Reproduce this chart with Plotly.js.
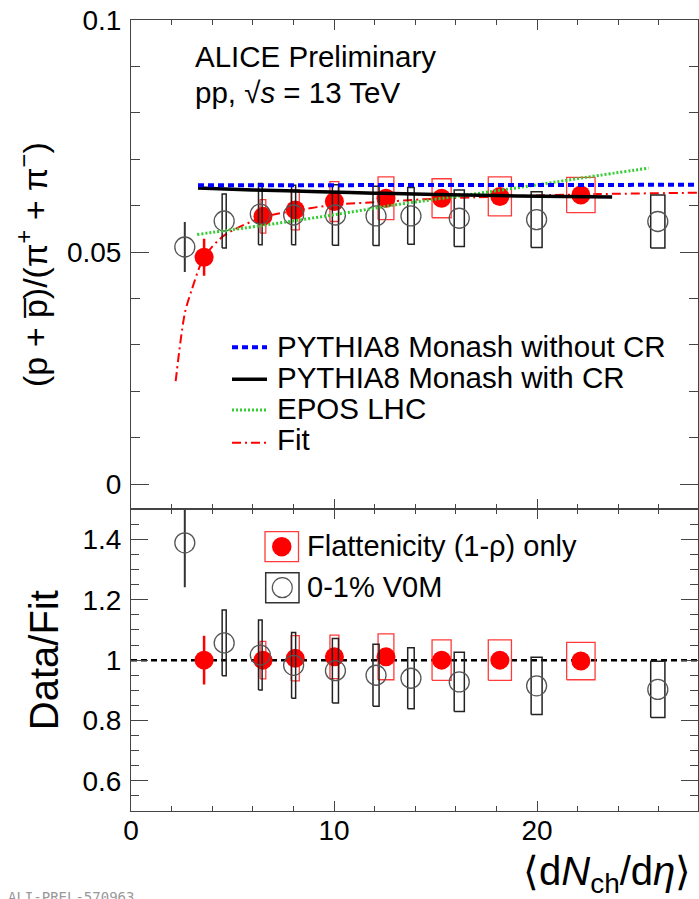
<!DOCTYPE html>
<html>
<head>
<meta charset="utf-8">
<script src="https://cdn.plot.ly/plotly-3.0.1.min.js"></script>
<style>
html,body{margin:0;padding:0;background:#fff;}
#chart{width:699px;height:899px;}
</style>
</head>
<body>
<div id="chart"></div>
<script>
// ---------------- data ----------------
// Flattenicity (1-rho) only
const xFlat      = [3.60, 6.50, 8.09, 10.02, 12.56, 15.30, 18.17, 22.16];
const xErrFlat   = [0.00, 0.14, 0.20, 0.22, 0.39, 0.47, 0.57, 0.70];
const yFlat      = [0.0489, 0.0577, 0.0591, 0.0609, 0.0616, 0.0616, 0.0620, 0.0623];
const statFlat   = [0.0040, 0.0006, 0.0006, 0.0006, 0.0006, 0.0006, 0.0006, 0.0006];
const systFlat   = [0.0000, 0.0036, 0.0043, 0.0043, 0.0046, 0.0042, 0.0042, 0.0038];
const ratioFlat     = [1.000, 1.000, 1.006, 1.011, 1.011, 1.000, 1.000, 0.997];
const ratioStatFlat = [0.081, 0.010, 0.010, 0.010, 0.010, 0.010, 0.010, 0.010];
const ratioSystFlat = [0.000, 0.062, 0.075, 0.072, 0.076, 0.067, 0.067, 0.062];

// 0-1% V0M
const xV0M      = [2.65, 4.59, 6.37, 8.01, 10.07, 12.07, 13.79, 16.17, 19.98, 25.95];
const xErrV0M   = [0.00, 0.10, 0.09, 0.10, 0.15, 0.15, 0.16, 0.25, 0.27, 0.35];
const yV0M      = [0.0511, 0.0567, 0.0582, 0.0580, 0.0580, 0.0578, 0.0578, 0.0573, 0.0570, 0.0566];
const statV0M   = [0.0054, 0, 0, 0, 0, 0, 0, 0, 0, 0];
const systV0M   = [0.0000, 0.0058, 0.0066, 0.0064, 0.0065, 0.0064, 0.0061, 0.0061, 0.0060, 0.0057];
const ratioV0M     = [1.389, 1.057, 1.017, 0.983, 0.965, 0.950, 0.940, 0.928, 0.915, 0.903];
const ratioStatV0M = [0.147, 0, 0, 0, 0, 0, 0, 0, 0, 0];
const ratioSystV0M = [0.000, 0.109, 0.116, 0.109, 0.107, 0.103, 0.101, 0.098, 0.095, 0.093];

// Models
const xPythiaNoCR = [3.3, 8, 14, 20, 28];
const yPythiaNoCR = [0.0644, 0.0644, 0.0644, 0.0645, 0.0645];
const xPythiaCR   = [3.3, 6.0, 9.3, 12.0, 15.0, 19.0, 23.7];
const yPythiaCR   = [0.0638, 0.0634, 0.0630, 0.0627, 0.0624, 0.0621, 0.0619];
const xEPOS       = [3.26, 6.4, 9.94, 13.2, 16.2, 19.4, 22.4, 25.5];
const yEPOS       = [0.0538, 0.0557, 0.0580, 0.0603, 0.0621, 0.0641, 0.0661, 0.0681];
const xFit        = [2.2, 2.65, 3.0, 3.6, 4.59, 6.5, 8.05, 10.05, 12.3, 14.5, 17, 20, 23, 27.93];
const yFit        = [0.0222, 0.0368, 0.0420, 0.0489, 0.0536, 0.0575, 0.0589, 0.0602, 0.0608, 0.0614, 0.0618, 0.0622, 0.0625, 0.0628];
const xUnity      = [0, 27.93];
const yUnity      = [1, 1];

// tick values / labels
const xTicks  = [0, 10, 20];
const yTopTicks = [0, 0.05, 0.1];
const yTopTickText = ['0', '0.05', '0.1'];
const yBotTicks = [0.6, 0.8, 1, 1.2, 1.4];
const yBotTickText = ['0.6', '0.8', '1', '1.2', '1.4'];

// ---------------- helpers ----------------
function boxes(xs, xe, ys, ye) {
  const X = [], Y = [];
  for (let i = 0; i < xs.length; i++) {
    if (!(ye[i] > 0)) continue;
    const x0 = xs[i] - xe[i], x1 = xs[i] + xe[i];
    const y0 = ys[i] - ye[i], y1 = ys[i] + ye[i];
    X.push(x0, x1, x1, x0, x0, null);
    Y.push(y0, y0, y1, y1, y0, null);
  }
  return {X, Y};
}

const FONT = 'Liberation Sans, Arial, Helvetica, sans-serif';
const RED = '#ff0000';
const RED_BOX = '#ff3b3b';
const AX = '#444444';

const W = 699, H = 899;
const mL = 131, mR = 1, mT = 20, mB = 88;
const pw = W - mL - mR, ph = H - mT - mB;
const px = p => (p - mL) / pw;
const py = p => (H - mB - p) / ph;
const split = 0.3814;

const bFlatTop = boxes(xFlat, xErrFlat, yFlat, systFlat);
const bV0MTop  = boxes(xV0M, xErrV0M, yV0M, systV0M);
const bFlatBot = boxes(xFlat, xErrFlat, ratioFlat, ratioSystFlat);
const bV0MBot  = boxes(xV0M, xErrV0M, ratioV0M, ratioSystV0M);

const traces = [];
function dataTraces(xa, ya, yF, sF, bF, yV, sV, bV) {
  traces.push({x: bF.X, y: bF.Y, xaxis: xa, yaxis: ya, mode: 'lines', type: 'scatter',
    line: {color: RED_BOX, width: 1.3}, hoverinfo: 'skip', showlegend: false, connectgaps: false});
  traces.push({x: xFlat, y: yF, xaxis: xa, yaxis: ya, mode: 'markers', type: 'scatter',
    marker: {color: RED, size: 19, symbol: 'circle', line: {width: 0}},
    error_y: {type: 'data', array: sF, visible: true, color: RED, thickness: 2.5, width: 0},
    showlegend: false, name: 'Flattenicity (1-ρ) only'});
  traces.push({x: bV.X, y: bV.Y, xaxis: xa, yaxis: ya, mode: 'lines', type: 'scatter',
    line: {color: '#222222', width: 1.5}, hoverinfo: 'skip', showlegend: false, connectgaps: false});
  traces.push({x: xV0M, y: yV, xaxis: xa, yaxis: ya, mode: 'markers', type: 'scatter',
    marker: {color: 'rgba(0,0,0,0)', size: 20, symbol: 'circle', line: {color: '#555555', width: 1.3}},
    error_y: {type: 'data', array: sV, visible: true, color: '#333333', thickness: 2, width: 0},
    showlegend: false, name: '0-1% V0M'});
}

// top panel: models
traces.push({x: xFit, y: yFit, xaxis: 'x2', yaxis: 'y', mode: 'lines', type: 'scatter',
  line: {color: RED, width: 2, dash: '9px,4px,2px,4px', shape: 'spline', smoothing: 0.8}, name: 'Fit', showlegend: false});
dataTraces('x2', 'y', yFlat, statFlat, bFlatTop, yV0M, statV0M, bV0MTop);
traces.push({x: xEPOS, y: yEPOS, xaxis: 'x2', yaxis: 'y', mode: 'lines', type: 'scatter',
  line: {color: '#33cc33', width: 3, dash: '2px,2px', shape: 'spline'}, name: 'EPOS LHC', showlegend: false});
traces.push({x: xPythiaCR, y: yPythiaCR, xaxis: 'x2', yaxis: 'y', mode: 'lines', type: 'scatter',
  line: {color: '#000000', width: 3.5, shape: 'spline'}, name: 'PYTHIA8 Monash with CR', showlegend: false});
traces.push({x: xPythiaNoCR, y: yPythiaNoCR, xaxis: 'x2', yaxis: 'y', mode: 'lines', type: 'scatter',
  line: {color: '#0000ff', width: 4, dash: '6px,4px'}, name: 'PYTHIA8 Monash without CR', showlegend: false});

// bottom panel
traces.push({x: xUnity, y: yUnity, xaxis: 'x', yaxis: 'y2', mode: 'lines', type: 'scatter',
  line: {color: '#000000', width: 2.5, dash: '6px,4px'}, hoverinfo: 'skip', showlegend: false});
dataTraces('x', 'y2', ratioFlat, ratioStatFlat, bFlatBot, ratioV0M, ratioStatV0M, bV0MBot);

const axisCommon = {
  showgrid: false, zeroline: false, showline: true, linecolor: AX, linewidth: 1,
  mirror: 'allticks', ticks: 'inside', tickcolor: AX, tickwidth: 1,
  tickfont: {family: FONT, size: 28, color: '#000'}
};

const NB = '\u00a0';
const layout = {
  width: W, height: H,
  margin: {l: mL, r: mR, t: mT, b: mB, pad: 0},
  paper_bgcolor: '#ffffff', plot_bgcolor: '#ffffff',
  showlegend: false,
  font: {family: FONT, color: '#000'},
  xaxis: Object.assign({}, axisCommon, {
    domain: [0, 1], anchor: 'y2', range: [0, 27.93],
    tickmode: 'array', tickvals: xTicks, ticktext: xTicks.map(String), ticklen: 10,
    minor: {dtick: 2, tick0: 0, ticklen: 5, ticks: 'inside', tickcolor: AX, tickwidth: 1, showgrid: false},
    ticklabelstandoff: -6
  }),
  xaxis2: Object.assign({}, axisCommon, {
    domain: [0, 1], anchor: 'y', matches: 'x', range: [0, 27.93],
    tickmode: 'array', tickvals: xTicks, ticklen: 10, showticklabels: false,
    minor: {dtick: 2, tick0: 0, ticklen: 5, ticks: 'inside', tickcolor: AX, tickwidth: 1, showgrid: false}
  }),
  yaxis: Object.assign({}, axisCommon, {
    domain: [split, 1], anchor: 'x2', range: [-0.0054, 0.1],
    tickmode: 'array', tickvals: yTopTicks, ticktext: yTopTickText, ticklen: 18,
    minor: {dtick: 0.01, tick0: 0, ticklen: 9, ticks: 'inside', tickcolor: AX, tickwidth: 1, showgrid: false},
    ticklabelstandoff: 3,
    title: {text: NB.repeat(5) + '(p + p\u0305)/(\u03c0<sup>+</sup> + \u03c0<sup>\u2212</sup>)', font: {family: FONT, size: 34, color: '#000'}, standoff: 9}
  }),
  yaxis2: Object.assign({}, axisCommon, {
    domain: [0, split], anchor: 'x', range: [0.5, 1.5],
    tickmode: 'array', tickvals: yBotTicks, ticktext: yBotTickText, ticklen: 17,
    minor: {dtick: 0.05, tick0: 0.5, ticklen: 8, ticks: 'inside', tickcolor: AX, tickwidth: 1, showgrid: false},
    ticklabelstandoff: 3,
    title: {text: 'Data/Fit', font: {family: FONT, size: 40, color: '#000'}, standoff: 11}
  }),
  shapes: [
    // top legend keys
    {type: 'line', xref: 'paper', yref: 'paper', x0: px(232), x1: px(267), y0: py(347.3), y1: py(347.3), line: {color: '#0000ff', width: 4, dash: '6px,4px'}},
    {type: 'line', xref: 'paper', yref: 'paper', x0: px(232), x1: px(267), y0: py(379.3), y1: py(379.3), line: {color: '#000000', width: 3.5}},
    {type: 'line', xref: 'paper', yref: 'paper', x0: px(232), x1: px(267), y0: py(410), y1: py(410), line: {color: '#33cc33', width: 3, dash: '2px,2px'}},
    {type: 'line', xref: 'paper', yref: 'paper', x0: px(232), x1: px(267), y0: py(442.7), y1: py(442.7), line: {color: RED, width: 2, dash: '9px,4px,2px,4px'}},
    // bottom legend keys
    {type: 'rect', xref: 'paper', yref: 'paper', x0: px(265), x1: px(298.5), y0: py(561.7), y1: py(531.7), line: {color: RED_BOX, width: 1.3}, fillcolor: 'rgba(0,0,0,0)'},
    {type: 'circle', xref: 'paper', yref: 'paper', x0: px(272), x1: px(291.5), y0: py(556.4), y1: py(536.9), line: {width: 0}, fillcolor: RED},
    {type: 'rect', xref: 'paper', yref: 'paper', x0: px(265.7), x1: px(299), y0: py(602.7), y1: py(572.7), line: {color: '#333333', width: 1.5}, fillcolor: 'rgba(0,0,0,0)'},
    {type: 'circle', xref: 'paper', yref: 'paper', x0: px(272.3), x1: px(292.3), y0: py(597.7), y1: py(577.7), line: {color: '#555555', width: 1.2}, fillcolor: 'rgba(0,0,0,0)'}
  ],
  annotations: [
    {text: 'ALICE Preliminary', xref: 'paper', yref: 'paper', x: px(193), y: py(56), xanchor: 'left', yanchor: 'middle', showarrow: false, font: {family: FONT, size: 29.5, color: '#000'}},
    {text: 'pp, \u221a<i>s</i> = 13 TeV', xref: 'paper', yref: 'paper', x: px(193), y: py(93), xanchor: 'left', yanchor: 'middle', showarrow: false, font: {family: FONT, size: 29.5, color: '#000'}},
    {text: 'PYTHIA8 Monash without CR', xref: 'paper', yref: 'paper', x: px(275), y: py(346), xanchor: 'left', yanchor: 'middle', showarrow: false, font: {family: FONT, size: 29.5, color: '#000'}},
    {text: 'PYTHIA8 Monash with CR', xref: 'paper', yref: 'paper', x: px(275), y: py(377), xanchor: 'left', yanchor: 'middle', showarrow: false, font: {family: FONT, size: 29.5, color: '#000'}},
    {text: 'EPOS LHC', xref: 'paper', yref: 'paper', x: px(275), y: py(408), xanchor: 'left', yanchor: 'middle', showarrow: false, font: {family: FONT, size: 29.5, color: '#000'}},
    {text: 'Fit', xref: 'paper', yref: 'paper', x: px(275), y: py(440), xanchor: 'left', yanchor: 'middle', showarrow: false, font: {family: FONT, size: 29.5, color: '#000'}},
    {text: 'Flattenicity (1-\u03c1) only', xref: 'paper', yref: 'paper', x: px(305), y: py(546), xanchor: 'left', yanchor: 'middle', showarrow: false, font: {family: FONT, size: 29, color: '#000'}},
    {text: '0-1% V0M', xref: 'paper', yref: 'paper', x: px(305), y: py(587), xanchor: 'left', yanchor: 'middle', showarrow: false, font: {family: FONT, size: 29, color: '#000'}},
    {text: '\u27e8d<i>N</i><sub>ch</sub>/d<i>\u03b7</i>\u27e9', xref: 'paper', yref: 'paper', x: px(693), y: py(874), xanchor: 'right', yanchor: 'middle', showarrow: false, font: {family: FONT, size: 40, color: '#000'}},
    {text: 'ALI-PREL-570963', xref: 'paper', yref: 'paper', x: px(6), y: py(897), xanchor: 'left', yanchor: 'middle', showarrow: false, font: {family: 'DejaVu Sans Mono, monospace', size: 14, color: '#999999'}}
  ]
};

Plotly.newPlot('chart', traces, layout, {staticPlot: true, displayModeBar: false});
</script>
</body>
</html>
